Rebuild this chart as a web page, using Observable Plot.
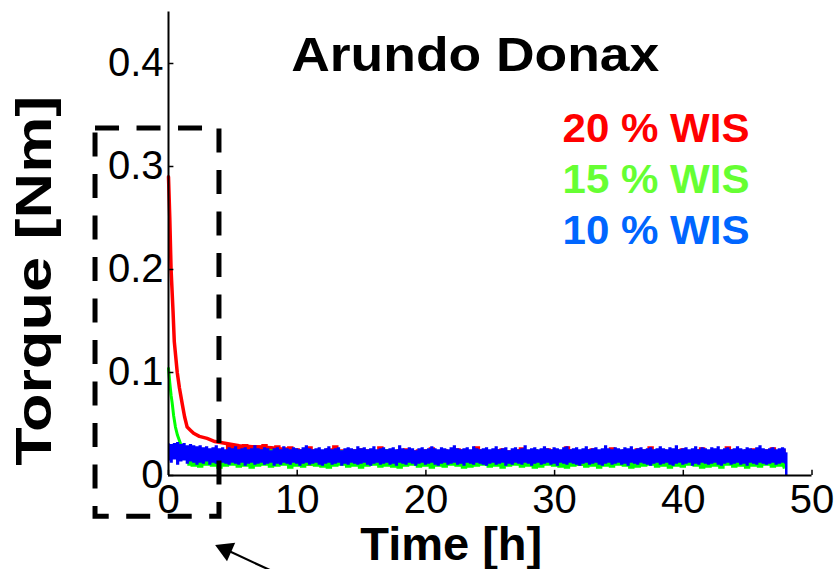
<!DOCTYPE html>
<html>
<head>
<meta charset="utf-8">
<script src="https://cdn.jsdelivr.net/npm/d3@7"></script>
<script src="https://cdn.jsdelivr.net/npm/@observablehq/plot@0.6"></script>
<style>
  html, body { margin: 0; padding: 0; background: #fff; }
  svg { display: block; }
</style>
</head>
<body>
<div id="chart"></div>
<script>
// ---- Data ----
const title = "Arundo Donax";
const xLabel = "Time [h]";
const yLabel = "Torque [Nm]";
const xTicks = [0, 10, 20, 30, 40, 50];
const xTickLabels = ["0", "10", "20", "30", "40", "50"];
const yTicks = [0, 0.1, 0.2, 0.3, 0.4];
const yTickLabels = ["0", "0.1", "0.2", "0.3", "0.4"];
const seriesNames = ["20 % WIS", "15 % WIS", "10 % WIS"];

// initial decay (time h, torque Nm)
const redDecayT = [0, 0.05, 0.1, 0.2, 0.35, 0.45, 0.68, 0.85, 1.06, 1.25, 1.45, 1.7, 1.95, 2.4, 3.0, 3.6, 4.5, 5.5, 6.5, 8];
const redDecayV = [0.29, 0.27, 0.25, 0.2, 0.16, 0.13, 0.10, 0.085, 0.07, 0.057, 0.047, 0.044, 0.041, 0.038, 0.036, 0.033, 0.031, 0.029, 0.028, 0.027];
const greenDecayT = [0, 0.1, 0.2, 0.29, 0.4, 0.54, 0.7, 0.93, 1.1, 1.3, 1.6];
const greenDecayV = [0.104, 0.09, 0.078, 0.07, 0.058, 0.047, 0.039, 0.031, 0.028, 0.026, 0.022];

// blue (10 % WIS) noise envelope, sampled every 0.25 h from 0 to 48 h
const blueStep = 0.25;
const blueHi = [
0.031,0.030,0.031,0.032,0.030,0.031,0.029,0.030,0.029,0.028,
0.029,0.027,0.028,0.026,0.027,0.029,0.026,0.027,0.025,0.027,
0.026,0.028,0.025,0.026,0.027,0.025,0.026,0.029,0.026,0.025,
0.027,0.026,0.024,0.026,0.027,0.025,0.028,0.026,0.025,0.027,
0.026,0.025,0.027,0.029,0.026,0.025,0.026,0.027,0.025,0.026,
0.028,0.025,0.026,0.027,0.024,0.026,0.027,0.026,0.025,0.028,
0.026,0.027,0.025,0.026,0.028,0.025,0.026,0.027,0.025,0.026,
0.027,0.025,0.029,0.026,0.025,0.027,0.026,0.024,0.026,0.027,
0.025,0.026,0.028,0.026,0.025,0.027,0.026,0.025,0.027,0.029,
0.026,0.025,0.026,0.027,0.025,0.028,0.026,0.025,0.026,0.027,
0.025,0.026,0.028,0.025,0.026,0.027,0.024,0.026,0.027,0.025,
0.026,0.029,0.025,0.026,0.027,0.025,0.026,0.028,0.026,0.025,
0.027,0.026,0.025,0.027,0.028,0.025,0.026,0.027,0.025,0.026,
0.028,0.025,0.026,0.027,0.025,0.026,0.029,0.026,0.025,0.027,
0.026,0.025,0.027,0.026,0.028,0.025,0.026,0.027,0.025,0.026,
0.027,0.025,0.026,0.028,0.026,0.025,0.027,0.026,0.029,0.025,
0.026,0.027,0.025,0.026,0.028,0.025,0.027,0.026,0.025,0.027,
0.026,0.028,0.025,0.026,0.027,0.025,0.026,0.028,0.026,0.025,
0.027,0.026,0.025,0.027,0.029,0.026,0.025,0.026,0.027,0.025,
0.026,0.027,0.026];
const blueLo = [
0.014,0.012,0.015,0.010,0.013,0.014,0.011,0.013,0.012,0.010,
0.012,0.011,0.013,0.010,0.012,0.011,0.009,0.012,0.011,0.010,
0.012,0.011,0.010,0.012,0.009,0.011,0.012,0.010,0.011,0.012,
0.010,0.011,0.012,0.009,0.011,0.010,0.012,0.011,0.010,0.012,
0.011,0.009,0.011,0.012,0.010,0.011,0.012,0.010,0.009,0.011,
0.012,0.010,0.011,0.012,0.009,0.011,0.010,0.012,0.011,0.010,
0.011,0.012,0.010,0.009,0.011,0.012,0.010,0.011,0.012,0.010,
0.011,0.009,0.012,0.011,0.010,0.012,0.011,0.009,0.011,0.012,
0.010,0.011,0.012,0.010,0.009,0.011,0.012,0.010,0.011,0.012,
0.010,0.011,0.009,0.012,0.011,0.010,0.012,0.011,0.010,0.009,
0.011,0.012,0.010,0.011,0.012,0.009,0.011,0.010,0.012,0.011,
0.010,0.012,0.011,0.009,0.011,0.012,0.010,0.011,0.012,0.010,
0.011,0.009,0.012,0.011,0.010,0.012,0.011,0.010,0.009,0.011,
0.012,0.010,0.011,0.012,0.010,0.009,0.011,0.012,0.010,0.011,
0.012,0.010,0.011,0.009,0.012,0.011,0.010,0.012,0.011,0.010,
0.009,0.011,0.012,0.010,0.011,0.012,0.010,0.009,0.011,0.012,
0.010,0.011,0.012,0.009,0.011,0.010,0.012,0.011,0.010,0.011,
0.012,0.010,0.009,0.011,0.012,0.010,0.011,0.012,0.010,0.011,
0.009,0.012,0.011,0.010,0.012,0.011,0.010,0.011,0.012,0.010,
0.011,0.012,0.011];

// red (20 %) and green (15 %) noise envelopes, sampled every 0.5 h from 0 to 48 h
const bandStep = 0.5;
const redHi = [
0.031,0.031,0.031,0.031,0.031,0.031,0.031,0.031,0.031,0.031,
0.030,0.029,0.030,0.028,0.029,0.030,0.028,0.029,0.027,0.028,
0.026,0.025,0.028,0.025,0.024,0.026,0.029,0.025,0.024,0.025,
0.026,0.025,0.024,0.028,0.025,0.024,0.025,0.026,0.024,0.025,
0.025,0.027,0.024,0.025,0.024,0.026,0.025,0.024,0.028,0.025,
0.024,0.025,0.026,0.024,0.025,0.027,0.024,0.025,0.024,0.026,
0.025,0.024,0.028,0.025,0.024,0.025,0.026,0.024,0.025,0.027,
0.024,0.025,0.024,0.026,0.025,0.028,0.024,0.025,0.024,0.025,
0.026,0.024,0.025,0.027,0.024,0.025,0.024,0.028,0.025,0.024,
0.025,0.026,0.024,0.025,0.027,0.024,0.025];
const redLo = [
0.012,0.012,0.012,0.012,0.012,0.012,0.012,0.012,0.012,0.012,
0.011,0.010,0.012,0.011,0.009,0.011,0.012,0.010,0.011,0.012,
0.010,0.011,0.009,0.012,0.011,0.010,0.012,0.011,0.010,0.009,
0.011,0.012,0.010,0.011,0.012,0.009,0.011,0.010,0.012,0.011,
0.010,0.011,0.012,0.009,0.011,0.010,0.012,0.011,0.010,0.011,
0.012,0.009,0.011,0.010,0.012,0.011,0.010,0.011,0.009,0.012,
0.011,0.010,0.011,0.012,0.009,0.011,0.010,0.012,0.011,0.010,
0.011,0.009,0.012,0.011,0.010,0.011,0.012,0.009,0.011,0.010,
0.012,0.011,0.010,0.009,0.011,0.012,0.010,0.011,0.009,0.012,
0.011,0.010,0.011,0.012,0.010,0.011,0.010];
const greenHi = [
0.022,0.023,0.021,0.022,0.024,0.021,0.022,0.023,0.021,0.022,
0.024,0.022,0.021,0.023,0.022,0.021,0.025,0.022,0.021,0.023,
0.022,0.024,0.021,0.022,0.023,0.021,0.022,0.024,0.022,0.021,
0.023,0.022,0.021,0.022,0.025,0.022,0.021,0.023,0.022,0.021,
0.022,0.024,0.021,0.022,0.023,0.021,0.022,0.023,0.021,0.022,
0.024,0.022,0.021,0.023,0.022,0.021,0.022,0.025,0.021,0.022,
0.023,0.021,0.022,0.024,0.022,0.021,0.023,0.022,0.021,0.022,
0.024,0.021,0.022,0.023,0.021,0.022,0.025,0.022,0.021,0.023,
0.022,0.021,0.024,0.022,0.021,0.023,0.022,0.021,0.022,0.024,
0.021,0.022,0.023,0.021,0.022,0.024,0.022];
const greenLo = [
0.008,0.008,0.008,0.009,0.008,0.007,0.009,0.008,0.006,0.008,
0.009,0.007,0.008,0.006,0.008,0.009,0.007,0.008,0.009,0.006,
0.008,0.007,0.009,0.008,0.007,0.006,0.008,0.009,0.007,0.008,
0.006,0.008,0.009,0.007,0.008,0.007,0.006,0.008,0.009,0.007,
0.008,0.006,0.008,0.007,0.009,0.008,0.006,0.007,0.008,0.009,
0.007,0.008,0.006,0.008,0.009,0.007,0.008,0.006,0.007,0.009,
0.008,0.007,0.006,0.008,0.009,0.007,0.008,0.006,0.008,0.007,
0.009,0.008,0.006,0.007,0.008,0.009,0.007,0.008,0.006,0.008,
0.007,0.009,0.008,0.006,0.007,0.008,0.006,0.009,0.007,0.008,
0.006,0.008,0.007,0.009,0.007,0.008,0.007];
const redBandStart = 4.5;
const greenBandStart = 1.5;
// end of recording (drop to zero)
const blueEnd = [{t: 48.0, lo: 0, hi: 0.022}];
const greenEnd = [{t: 47.8, lo: 0.006, hi: 0.02}];

// annotation: dashed zoom box and arrow (data units)
const zoomBox = [{x1: -5.67, x2: 3.96, y1: -0.04, y2: 0.337}];
const arrowLine = [{x1: 9.3, y1: -0.1, x2: 4.2, y2: -0.0705}];
const arrowHead = [{x: 4.45, y: -0.072}];

// ---- Build tables ----
const band = (hi, lo, step, start) => hi.map((h, i) => ({t: i * step, hi: h, lo: lo[i]}))
  .filter(d => d.t >= start);
const redBand = band(redHi, redLo, bandStep, redBandStart);
const greenBand = band(greenHi, greenLo, bandStep, greenBandStart);
const blueBand = band(blueHi, blueLo, blueStep, 0);
const redDecay = redDecayT.map((t, i) => ({t, v: redDecayV[i]}));
const greenDecay = greenDecayT.map((t, i) => ({t, v: greenDecayV[i]}));

const lineColors = ["#ff0000", "#00ff00", "#0000ff"];
const legendColors = ["#ff0000", "#66ff33", "#0066ff"];
const legendRowY = [128, 179, 230];
const font = "'Liberation Sans', Arial, Helvetica, sans-serif";

const chart = Plot.plot({
  width: 838,
  height: 569,
  marginLeft: 168,
  marginRight: 26.5,
  marginTop: 11.5,
  marginBottom: 94,
  x: {domain: [0, 50], axis: null},
  y: {domain: [0, 0.45], axis: null},
  style: {fontFamily: font, background: "white", overflow: "visible"},
  marks: [
    // data
    Plot.areaY(redBand, {x: "t", y1: "lo", y2: "hi", fill: lineColors[0], curve: "step"}),
    Plot.line(redDecay, {x: "t", y: "v", stroke: lineColors[0], strokeWidth: 3.5}),
    Plot.areaY(greenBand, {x: "t", y1: "lo", y2: "hi", fill: lineColors[1], curve: "step"}),
    Plot.line(greenDecay, {x: "t", y: "v", stroke: lineColors[1], strokeWidth: 3}),
    Plot.ruleX(greenEnd, {x: "t", y1: "lo", y2: "hi", stroke: lineColors[1], strokeWidth: 2}),
    Plot.areaY(blueBand, {x: "t", y1: "lo", y2: "hi", fill: lineColors[2], curve: "step"}),
    Plot.ruleX(blueEnd, {x: "t", y1: "lo", y2: "hi", stroke: lineColors[2], strokeWidth: 2.5}),
    // axes lines
    Plot.ruleY([0], {x1: 0, x2: 50, stroke: "black", strokeWidth: 2}),
    Plot.ruleX([0], {y1: 0, y2: 0.45, stroke: "black", strokeWidth: 2}),
    // inward ticks
    Plot.ruleX(xTicks, {y1: 0, y2: 0.005, stroke: "black", strokeWidth: 1.5}),
    Plot.ruleY(yTicks, {x1: 0, x2: 0.42, stroke: "black", strokeWidth: 1.5}),
    // tick labels
    Plot.text(xTicks, {x: d => d, y: 0, text: (d, i) => xTickLabels[i], dy: 25, fontSize: 40, fill: "black", textAnchor: "middle", lineAnchor: "middle"}),
    Plot.text(yTicks, {x: 0, y: d => d, text: (d, i) => yTickLabels[i], dx: -5, fontSize: 40, fill: "black", textAnchor: "end", lineAnchor: "middle"}),
    // axis titles
    Plot.text([xLabel], {frameAnchor: "bottom", dx: -39, dy: 70, fontSize: 46, fontWeight: "bold", fill: "black", lineAnchor: "middle"}),
    Plot.text([yLabel], {x: -10.35, y: 0.189, rotate: -90, fontSize: 50, fontWeight: "bold", fill: "black", textAnchor: "middle", lineAnchor: "middle"}),
    // title
    Plot.text([title], {frameAnchor: "top", dx: -15, dy: 44, fontSize: 48, fontWeight: "bold", fill: "black", lineAnchor: "middle"}),
    // legend
    ...seriesNames.map((name, i) =>
      Plot.text([name], {frameAnchor: "top-left", dx: 394, dy: legendRowY[i] - 11.5, fill: legendColors[i], fontSize: 41, fontWeight: "bold", textAnchor: "start", lineAnchor: "middle"})),
    // annotation
    Plot.rect(zoomBox, {x1: "x1", x2: "x2", y1: "y1", y2: "y2", fill: "none", stroke: "black", strokeWidth: 5, strokeDasharray: "24,17.5"}),
    Plot.link(arrowLine, {x1: "x1", y1: "y1", x2: "x2", y2: "y2", stroke: "black", strokeWidth: 2.2}),
    Plot.dot(arrowHead, {x: "x", y: "y", symbol: "triangle", r: 7.5, fill: "black", stroke: "none", rotate: -66})
  ]
});

// fit the long labels to the lengths measured on the reference
const fitLengths = {[title]: 368, [xLabel]: 182, [yLabel]: 370, "20 % WIS": 187, "15 % WIS": 187, "10 % WIS": 187};
chart.querySelectorAll("text").forEach(t => {
  const len = fitLengths[t.textContent];
  if (len) {
    t.setAttribute("textLength", len);
    t.setAttribute("lengthAdjust", "spacingAndGlyphs");
  }
});
document.getElementById("chart").appendChild(chart);
</script>
</body>
</html>
